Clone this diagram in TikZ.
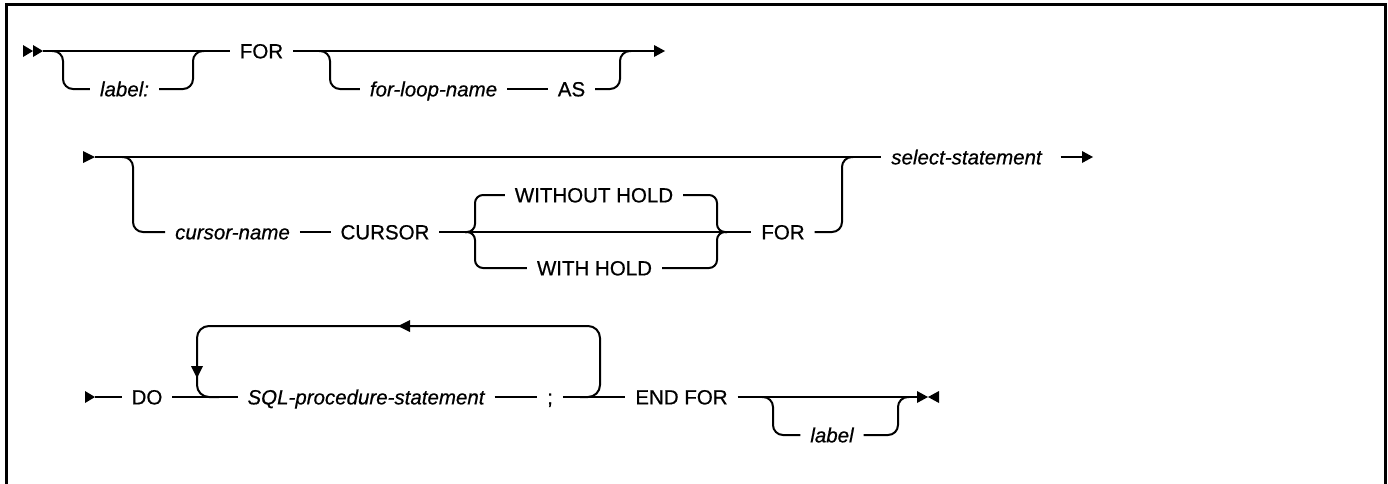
\documentclass[tikz,border=0pt]{standalone}
\usepackage{fontspec}
\setmainfont{Liberation Sans}[FakeBold=0.6]
\begin{document}
\begin{tikzpicture}[x=1pt,y=-1pt,
  line width=2pt,
  every node/.style={font=\fontsize{20.5}{24}\selectfont, text height=14.7pt, text depth=0pt, inner xsep=9pt, inner ysep=0pt, anchor=center},
  var/.style={font=\fontsize{20.5}{24}\selectfont\itshape},
  rc/.style={rounded corners=10pt},
  rb/.style={rounded corners=8pt},
  lp/.style={rounded corners=12pt},
  frame/.style={line width=3pt}
]
\useasboundingbox (0,0) rectangle (1388,483);
\draw[frame] (6,490) -- (6,4) -- (1385.5,4) -- (1385.5,490);

% ---------------- Row 1 ----------------
\fill (23,45) -- (33,51) -- (23,57) -- cycle;
\fill (33,45) -- (43,51) -- (33,57) -- cycle;
\coordinate (s1) at (43,51);
\node (for1) at (261.5,51) {FOR};
\coordinate (e1) at (655,51);
\fill (654,45) -- (665,51) -- (654,57) -- cycle;
\draw (s1) -- (for1) -- (e1);

\coordinate (L1) at (52,51);
\coordinate (R1) at (204,51);
\node[var] (lab1) at (124.5,89) {label:};
\draw[rc] (L1) -- ++(11,0) |- (lab1);
\draw[rc] (lab1) -| ([xshift=-11pt]R1) -- (R1);

\coordinate (L2) at (319,51);
\coordinate (R2) at (631,51);
\node[var] (fln) at (433.5,89) {for-loop-name};
\node (as) at (571.5,89) {AS};
\draw[rc] (L2) -- ++(11,0) |- (fln);
\draw (fln) -- (as);
\draw[rc] (as) -| ([xshift=-11pt]R2) -- (R2);

% ---------------- Row 2 ----------------
\fill (83,151) -- (95,157) -- (83,163) -- cycle;
\coordinate (s2) at (95,157);
\node[var] (sel) at (966.5,157) {select-statement};
\draw (s2) -- (sel);
\coordinate (e2) at (1083,157);
\draw[shorten <=9pt] (sel) -- (e2);
\fill (1082,151) -- (1093,157) -- (1082,163) -- cycle;

\coordinate (L3) at (122,157);
\coordinate (R3) at (853,157);
\node[var] (cn) at (232.5,232) {cursor-name};
\node (cur) at (385,232) {CURSOR};
\node (woh) at (594,195) {WITHOUT HOLD};
\node (wh) at (594.5,268) {WITH HOLD};
\node (for2) at (783,232) {FOR};
\coordinate (bl) at (465,232);
\coordinate (br) at (727,232);
\draw[rc] (L3) -- ++(11,0) |- (cn);
\draw (cn) -- (cur) -- (for2);
\draw[rb] (woh) -| ([xshift=10pt]bl) -- (bl);
\draw[rb] (wh) -| ([xshift=10pt]bl) -- (bl);
\draw[rb] (woh) -| ([xshift=-10pt]br) -- (br);
\draw[rb] (wh) -| ([xshift=-10pt]br) -- (br);
\draw[rc] (for2) -| ([xshift=-11pt]R3) -- (R3);

% ---------------- Row 3 ----------------
\fill (85,391) -- (95,397) -- (85,403) -- cycle;
\coordinate (s3) at (95,397);
\node (do) at (147,397) {DO};
\node[var] (sql) at (366,397) {SQL-procedure-statement};
\node (semi) at (550,397) {;};
\node (ef) at (681.5,397) {END FOR};
\coordinate (e3) at (917,397);
\draw (s3) -- (do) -- (sql) -- (semi) -- (ef) -- (e3);
\fill (917,391) -- (928,397) -- (917,403) -- cycle;
\fill (939,391) -- (928,397) -- (939,403) -- cycle;

\coordinate (LL) at (219,397);
\coordinate (LR) at (580,397);
\coordinate (lpr) at (600,326);
\coordinate (lpl) at (197,397);
\draw[lp] (LR) -| (lpr) -| (lpl) -- (LL);
\fill (191,366) -- (203,366) -- (197,378) -- cycle;
\fill (410,320) -- (398,326) -- (410,332) -- cycle;

\coordinate (L4) at (762,397);
\coordinate (R4) at (909,397);
\node[var] (lab2) at (832,435) {label};
\draw[rc] (L4) -- ++(11,0) |- (lab2);
\draw[rc] (lab2) -| ([xshift=-11pt]R4) -- (R4);
\end{tikzpicture}
\end{document}
